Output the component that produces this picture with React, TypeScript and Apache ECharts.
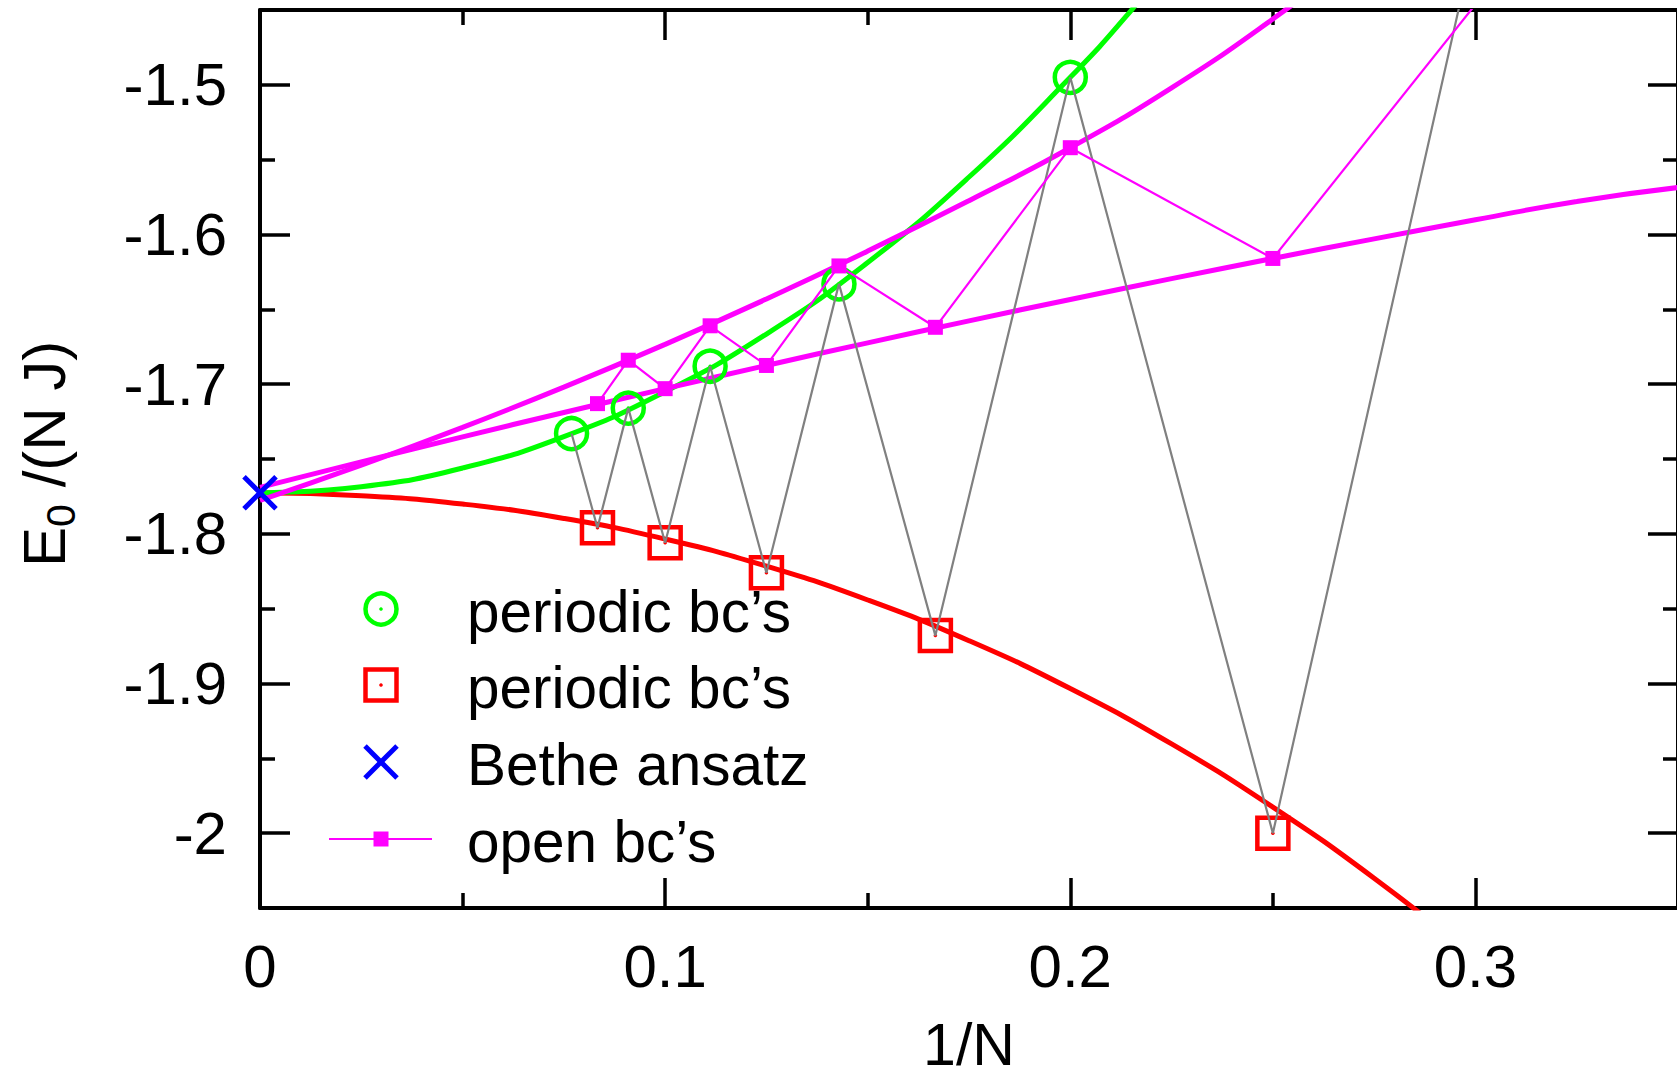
import { useEffect, useRef } from "react";
import * as echarts from "echarts";

// ---- data ----
const periodicOddX = [0.0769, 0.0909, 0.1111, 0.1429, 0.2];
const periodicOddY = [-1.733, -1.716, -1.688, -1.633, -1.495];
const periodicEvenX = [0.0833, 0.1, 0.125, 0.1667, 0.25];
const periodicEvenY = [-1.796, -1.806, -1.826, -1.868, -2.0];
// periodic points joined in order of N = 3..13
const periodicAllX = [0.3333, 0.25, 0.2, 0.1667, 0.1429, 0.125, 0.1111, 0.1, 0.0909, 0.0833, 0.0769];
const periodicAllY = [-1.0, -2.0, -1.495, -1.868, -1.633, -1.826, -1.688, -1.806, -1.716, -1.796, -1.733];
// open chains N = 3..12
const openX = [0.3333, 0.25, 0.2, 0.1667, 0.1429, 0.125, 0.1111, 0.1, 0.0909, 0.0833];
const openY = [-1.3333, -1.616, -1.542, -1.662, -1.621, -1.6875, -1.661, -1.703, -1.684, -1.713];
const betheX = [0];
const betheY = [-1.7726];

// fitted curves
const fitOddPX = [0, 0.025, 0.05, 0.075, 0.1, 0.125, 0.15, 0.175, 0.2, 0.215, 0.22];
const fitOddPY = [-1.7726, -1.7685, -1.756, -1.735, -1.705, -1.6665, -1.6187, -1.5616, -1.495, -1.4504, -1.432];
const fitEvenPX = [0, 0.025, 0.05, 0.075, 0.1, 0.125, 0.15, 0.175, 0.2, 0.225, 0.25, 0.275, 0.3];
const fitEvenPY = [-1.7726, -1.7745, -1.7801, -1.7897, -1.8035, -1.8216, -1.8442, -1.8714, -1.9034, -1.9404, -1.9826, -2.0301, -2.0831];
const fitOpenOddX = [0, 0.025, 0.05, 0.075, 0.1, 0.125, 0.15, 0.175, 0.2, 0.225, 0.25, 0.275];
const fitOpenOddY = [-1.7776, -1.7541, -1.7289, -1.702, -1.6734, -1.6431, -1.6111, -1.5774, -1.542, -1.502, -1.456, -1.405];
const fitOpenEvenX = [0, 0.025, 0.05, 0.075, 0.1, 0.125, 0.15, 0.175, 0.2, 0.225, 0.25, 0.275, 0.3, 0.325, 0.35];
const fitOpenEvenY = [-1.769, -1.7519, -1.7352, -1.7189, -1.703, -1.6875, -1.6724, -1.6577, -1.6434, -1.6295, -1.616, -1.6029, -1.5902, -1.5779, -1.5686];

const legendLabels = ["periodic bc\u2019s", "periodic bc\u2019s", "Bethe ansatz", "open bc\u2019s"];
const xAxisTitle = "1/N";
const yTitleMain = "E";
const yTitleSub = "0";
const yTitleRest = " /(N J)";

const FONT = "Liberation Sans";
const GREEN = "#00ff00";
const RED = "#ff0000";
const BLUE = "#0000ff";
const MAGENTA = "#ff00ff";
const GRAY = "#808080";

const pairs = (xs: number[], ys: number[]) => xs.map((x, i) => [x, ys[i]]);

export default function App() {
  const ref = useRef<HTMLDivElement>(null);

  useEffect(() => {
    if (!ref.current) return;
    const chart = echarts.init(ref.current, null, { renderer: "svg" });

    const axisLine = { show: true, onZero: false, lineStyle: { color: "#000", width: 4 } };
    const axisTick = { show: true, inside: true, length: 30, lineStyle: { color: "#000", width: 3.5 } };
    const minorTick = { show: true, splitNumber: 2, length: 15, lineStyle: { color: "#000", width: 3.5 } };

    const rowY = [609, 685, 762, 839];
    const symX = 381;
    const textX = 467;
    const legendGraphics: any[] = [
      { type: "circle", shape: { cx: symX, cy: rowY[0], r: 15.5 }, style: { fill: "none", stroke: GREEN, lineWidth: 4.5 } },
      { type: "circle", shape: { cx: symX, cy: rowY[0], r: 1.8 }, style: { fill: GREEN } },
      { type: "rect", shape: { x: symX - 15.5, y: rowY[1] - 15.5, width: 31, height: 31 }, style: { fill: "none", stroke: RED, lineWidth: 4.5 } },
      { type: "circle", shape: { cx: symX, cy: rowY[1], r: 1.8 }, style: { fill: RED } },
      { type: "line", shape: { x1: symX - 16, y1: rowY[2] - 16, x2: symX + 16, y2: rowY[2] + 16 }, style: { stroke: BLUE, lineWidth: 5 } },
      { type: "line", shape: { x1: symX + 16, y1: rowY[2] - 16, x2: symX - 16, y2: rowY[2] + 16 }, style: { stroke: BLUE, lineWidth: 5 } },
      { type: "line", shape: { x1: 329, y1: rowY[3], x2: 432, y2: rowY[3] }, style: { stroke: MAGENTA, lineWidth: 2.2 } },
      { type: "rect", shape: { x: symX - 7.5, y: rowY[3] - 7.5, width: 15, height: 15 }, style: { fill: MAGENTA } },
    ];
    legendLabels.forEach((t, i) => {
      legendGraphics.push({
        type: "text",
        x: textX,
        y: rowY[i] + 2,
        style: { text: t, fill: "#000", font: `58.5px "${FONT}"`, verticalAlign: "middle", align: "left" },
      });
    });
    // y axis title with subscript, rotated
    legendGraphics.push({
      type: "group",
      x: 44,
      y: 567,
      rotation: Math.PI / 2,
      children: [
        { type: "text", x: 0, y: 0, style: { text: yTitleMain, fill: "#000", font: `60px "${FONT}"`, verticalAlign: "middle", align: "left" } },
        { type: "text", x: 40, y: 17, style: { text: yTitleSub, fill: "#000", font: `41px "${FONT}"`, verticalAlign: "middle", align: "left" } },
        { type: "text", x: 63, y: 0, style: { text: yTitleRest, fill: "#000", font: `60px "${FONT}"`, verticalAlign: "middle", align: "left" } },
      ],
    });

    const option: any = {
      animation: false,
      backgroundColor: "#fff",
      textStyle: { fontFamily: FONT },
      grid: { left: 260, top: 10, width: 1418, height: 898, outerBoundsMode: "none" },
      xAxis: [
        {
          type: "value", min: 0, max: 0.35, interval: 0.1, position: "bottom",
          name: xAxisTitle, nameLocation: "middle", nameGap: 107,
          nameTextStyle: { fontSize: 59, color: "#000", fontFamily: FONT },
          axisLine, axisTick, minorTick,
          splitLine: { show: false },
          axisLabel: { show: true, margin: 28, fontSize: 60, color: "#000", fontFamily: FONT, showMaxLabel: false },
        },
        {
          type: "value", min: 0, max: 0.35, interval: 0.1, position: "top",
          axisLine, axisTick, minorTick,
          splitLine: { show: false },
          axisLabel: { show: false },
        },
      ],
      yAxis: [
        {
          type: "value", min: -2.05, max: -1.45, splitNumber: 5, position: "left",
          axisLine, axisTick, minorTick,
          splitLine: { show: false },
          axisLabel: { show: true, margin: 33, fontSize: 60, color: "#000", fontFamily: FONT, showMinLabel: false, showMaxLabel: false },
        },
        {
          type: "value", min: -2.05, max: -1.45, splitNumber: 5, position: "right",
          axisLine, axisTick, minorTick,
          splitLine: { show: false },
          axisLabel: { show: false },
        },
      ],
      series: [
        { type: "line", data: pairs(fitEvenPX, fitEvenPY), smooth: true, showSymbol: false, lineStyle: { color: RED, width: 5 }, z: 2 },
        { type: "line", data: pairs(fitOddPX, fitOddPY), smooth: true, showSymbol: false, lineStyle: { color: GREEN, width: 5 }, z: 2 },
        { type: "line", data: pairs(fitOpenOddX, fitOpenOddY), smooth: true, showSymbol: false, lineStyle: { color: MAGENTA, width: 5 }, z: 2 },
        { type: "line", data: pairs(fitOpenEvenX, fitOpenEvenY), smooth: true, showSymbol: false, lineStyle: { color: MAGENTA, width: 5 }, z: 2 },
        {
          type: "scatter", data: pairs(periodicOddX, periodicOddY), symbol: "circle", symbolSize: 31,
          itemStyle: { color: "rgba(0,0,0,0)", borderColor: GREEN, borderWidth: 4.5, opacity: 1 }, z: 3,
        },
        {
          type: "scatter", data: pairs(periodicEvenX, periodicEvenY), symbol: "rect", symbolSize: 31,
          itemStyle: { color: "rgba(0,0,0,0)", borderColor: RED, borderWidth: 4.5, opacity: 1 }, z: 3,
        },
        { type: "scatter", data: pairs(periodicOddX, periodicOddY), symbol: "circle", symbolSize: 3.5, itemStyle: { color: GREEN, opacity: 1 }, z: 3 },
        { type: "scatter", data: pairs(periodicEvenX, periodicEvenY), symbol: "circle", symbolSize: 3.5, itemStyle: { color: RED, opacity: 1 }, z: 3 },
        { type: "line", data: pairs(periodicAllX, periodicAllY), showSymbol: false, lineStyle: { color: GRAY, width: 2.2 }, z: 4 },
        {
          type: "line", data: pairs(openX, openY), symbol: "rect", symbolSize: 15, showSymbol: true,
          itemStyle: { color: MAGENTA }, lineStyle: { color: MAGENTA, width: 2.2 }, z: 5,
        },
        {
          type: "scatter", data: pairs(betheX, betheY), symbol: "path://M0 0L20 20M20 0L0 20", symbolSize: 32, clip: false,
          itemStyle: { color: "none", borderColor: BLUE, borderWidth: 5, opacity: 1 }, z: 6,
        },
      ],
      graphic: legendGraphics,
    };

    chart.setOption(option);
    return () => chart.dispose();
  }, []);

  return <div ref={ref} style={{ position: "absolute", left: 0, top: 0, width: 1677, height: 1078 }} />;
}
